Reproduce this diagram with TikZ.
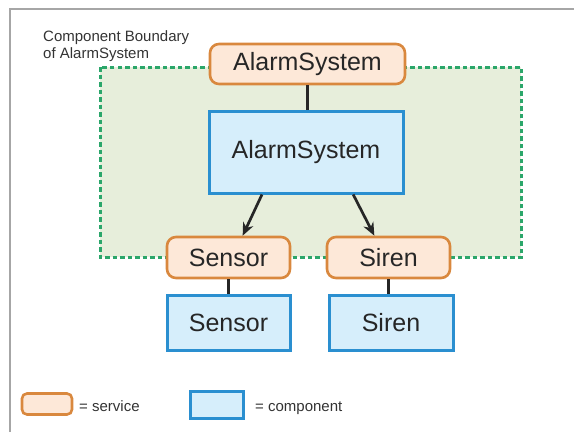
\documentclass[tikz,border=0pt]{standalone}
\usepackage{fontspec}
\setmainfont{Liberation Sans}
\usetikzlibrary{arrows.meta}

\definecolor{svcfill}{HTML}{FDE8D8}
\definecolor{svcline}{HTML}{D9883E}
\definecolor{compfill}{HTML}{D6EEFB}
\definecolor{compline}{HTML}{2A8FD0}
\definecolor{bndfill}{HTML}{E7EEDB}
\definecolor{bndline}{HTML}{2BA66A}
\definecolor{inkgray}{HTML}{333333}

\tikzset{
	svcbox/.style={draw=svcline, fill=svcfill, line width=2.6pt, rounded corners=9pt,
		text=black!85, font=\fontsize{25}{28}\selectfont},
	compbox/.style={draw=compline, fill=compfill, line width=3pt,
		text=black!85, font=\fontsize{25}{28}\selectfont},
	link/.style={line width=2.5pt, black!85},
	arrowlink/.style={link, line width=2.7pt, -{Stealth[length=13pt, width=11pt]}},
	smalltext/.style={inner sep=0pt, text=inkgray, font=\fontsize{15}{17}\selectfont}
}

\begin{document}
\begin{tikzpicture}[x=1pt, y=-1pt]
		\useasboundingbox (0, 0) rectangle (574, 432);
		\draw[gray!70, line width=2.5pt] (10, 432) -- (10, 9) -- (574, 9);
		
		% component boundary
		\draw[bndline, fill=bndfill, line width=3pt, dash pattern=on 4.5pt off 3pt] (100, 67) rectangle (521, 257);
		\node[smalltext, anchor=north west, align=left] (boundaryLabel) at (43, 30) {Component Boundary\\of AlarmSystem};
		
		\node[svcbox, minimum width=195pt, minimum height=40pt] (svcAlarm) at (307.5, 64) {AlarmSystem};
		\node[compbox, minimum width=194pt, minimum height=82pt] (compAlarm) at (306, 152) {AlarmSystem};
		
		\node[svcbox, minimum width=123pt, minimum height=41pt] (svcSensor) at (228.5, 257.5) {Sensor};
		\node[svcbox, minimum width=123pt, minimum height=41pt] (svcSiren) at (388.5, 257.5) {Siren};
		
		\node[compbox, minimum width=123pt, minimum height=55pt] (compSensor) at (228.5, 322.5) {Sensor};
		\node[compbox, minimum width=124pt, minimum height=55pt] (compSiren) at (391, 322.5) {Siren};
		
		\draw[link] (svcAlarm.south) -- (svcAlarm.south |- compAlarm.north);
		\draw[link] (svcSensor.south) -- (svcSensor.south |- compSensor.north);
		\draw[link] (svcSiren.south) -- (svcSiren.south |- compSiren.north);
		
		\draw[arrowlink] (compAlarm.224) -- (svcSensor.57);
		\draw[arrowlink] (compAlarm.318) -- (svcSiren.123);
		
		% legend
		\node[svcbox, minimum width=50pt, minimum height=21pt, rounded corners=5pt] (legSvc) at (47, 404) {};
		\node[smalltext, anchor=base west] (legSvcText) at (79, 411) {= service};
		\node[compbox, minimum width=53pt, minimum height=27pt] (legComp) at (216.5, 404.5) {};
		\node[smalltext, anchor=base west] (legCompText) at (255, 411) {= component};
	\end{tikzpicture}
\end{document}
